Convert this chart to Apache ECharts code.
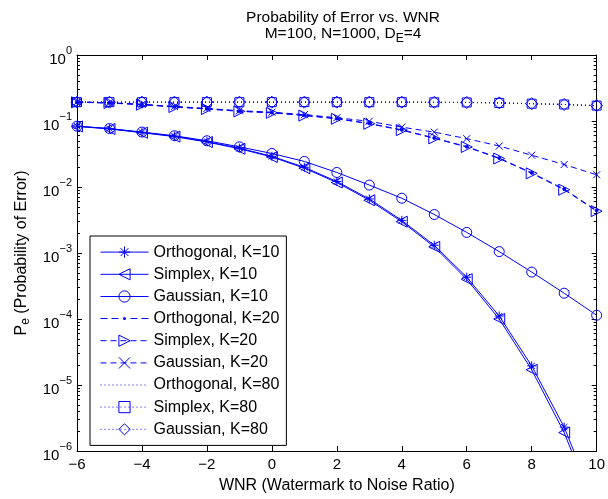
<!DOCTYPE html>
<html>
<head>
<meta charset="utf-8">
<script src="https://cdn.jsdelivr.net/npm/echarts@6/dist/echarts.min.js"></script>
<style>html,body{margin:0;padding:0;background:#fff}#c{width:608px;height:499px}</style>
</head>
<body>
<div id="c"></div>
<script>
const wnr = [-6,-5,-4,-3,-2,-1,0,1,2,3,4,5,6,7,8,9,10];
const orthK10  = [0.0835,0.0765,0.0672,0.0588,0.0488,0.0388,0.0292,0.0199,0.0121,0.0066,0.00312,0.00131,0.00043,0.000111,1.95e-5,2.3e-6,1.4e-7];
const simpK10  = [0.0828,0.0758,0.0665,0.0580,0.0480,0.0380,0.0285,0.0193,0.0117,0.0063,0.00298,0.00124,0.000400,0.000100,1.7e-5,1.9e-6,1.1e-7];
const gaussK10 = [0.0835,0.0768,0.0680,0.0598,0.0502,0.0406,0.0322,0.0244,0.0166,0.0107,0.00676,0.00383,0.00205,0.00105,0.000514,0.000246,0.000114];
const orthK20  = [0.193,0.188,0.178,0.164,0.153,0.141,0.134,0.122,0.109,0.0918,0.0735,0.0553,0.0409,0.0274,0.0164,0.0093,0.0044];
const simpK20  = [0.192,0.187,0.177,0.163,0.152,0.140,0.133,0.121,0.108,0.0908,0.0727,0.0546,0.0404,0.0270,0.0161,0.0091,0.00431];
const gaussK20 = [0.195,0.189,0.179,0.166,0.155,0.143,0.136,0.125,0.112,0.099,0.0807,0.0678,0.054,0.0418,0.0303,0.0219,0.0153];
const orthK80  = [0.193,0.193,0.193,0.193,0.193,0.193,0.193,0.193,0.193,0.193,0.193,0.192,0.191,0.188,0.183,0.178,0.171];
const simpK80  = [0.193,0.193,0.193,0.193,0.193,0.193,0.193,0.193,0.193,0.193,0.193,0.192,0.191,0.188,0.183,0.178,0.171];
const gaussK80 = [0.193,0.193,0.193,0.193,0.193,0.193,0.193,0.193,0.193,0.193,0.193,0.192,0.191,0.188,0.183,0.178,0.171];
const seriesNames = ['Orthogonal, K=10','Simplex, K=10','Gaussian, K=10','Orthogonal, K=20','Simplex, K=20','Gaussian, K=20','Orthogonal, K=80','Simplex, K=80','Gaussian, K=80'];
const xTicks = [-6,-4,-2,0,2,4,6,8,10];
const yMajor = [1e-6,1e-5,1e-4,1e-3,1e-2,1e-1,1];

const BLUE = '#0000ff';
const FONT = 'Liberation Sans, Arial, Helvetica, sans-serif';
const minorVals = [];
for (let e = -6; e < 0; e++) for (let m = 2; m <= 9; m++) minorVals.push(m * Math.pow(10, e));

const ASTER = 'path://M5,0L5,10M0,5L10,5M1.5,1.5L8.5,8.5M8.5,1.5L1.5,8.5';
const XMARK = 'path://M0,0L10,10M10,0L0,10';
// legend icon for dashed line with small dot (48 x 14 box, tiny corner squares fix the bounds)
const DOT_DASH_ICON = 'path://M0,0h0.01v0.01h-0.01z M47.99,13.99h0.01v0.01h-0.01z ' +
  'M0,6.5h7v1h-7z M11,6.5h7v1h-7z M30,6.5h7v1h-7z M41,6.5h7v1h-7z ' +
  'M22.5,7a1.5,1.5 0 1,0 3,0a1.5,1.5 0 1,0 -3,0z';

function mk(name, data, lineType, symbol, size, rotate, filled) {
  return {
    name, type: 'line', data: wnr.map((x, i) => [x, data[i]]),
    symbol, symbolSize: size, symbolRotate: rotate || 0, showSymbol: symbol !== 'none',
    lineStyle: { color: BLUE, width: 1, type: lineType },
    itemStyle: { color: filled ? BLUE : 'none', borderColor: BLUE, borderWidth: 1 },
    emphasis: { disabled: true }, animation: false, z: 3
  };
}
const dashed = [6, 4], dotted = [1, 3];
const series = [
  mk(seriesNames[0], orthK10, 'solid', ASTER, 9, 0, false),
  mk(seriesNames[1], simpK10, 'solid', 'triangle', 11, 90, false),
  mk(seriesNames[2], gaussK10, 'solid', 'circle', 10, 0, false),
  mk(seriesNames[3], orthK20, dashed, 'circle', 3, 0, true),
  mk(seriesNames[4], simpK20, dashed, 'triangle', 11, -90, false),
  mk(seriesNames[5], gaussK20, dashed, XMARK, 7, 0, false),
  mk(seriesNames[6], orthK80, dotted, 'none', 1, 0, false),
  mk(seriesNames[7], simpK80, dotted, 'rect', 9, 0, false),
  mk(seriesNames[8], gaussK80, dotted, 'diamond', 12, 0, false)
];

const legendData = seriesNames.map((n, i) => {
  if (i === 3) return { name: n, icon: DOT_DASH_ICON, itemStyle: { color: BLUE, borderWidth: 0 } };
  if (i === 6) return { name: n, itemStyle: { color: 'none', borderColor: 'none', borderWidth: 0 } };
  return { name: n };
});

const expLabel = v => {
  const e = Math.round(Math.log10(v));
  return '{b|10}{s|' + (e < 0 ? '\u2212' + (-e) : e) + '}';
};
const axisLine = { show: true, onZero: false, lineStyle: { color: '#000', width: 1 } };
const yBase = { type: 'log', logBase: 10, min: 1e-6, max: 1, gridIndex: 0, splitLine: { show: false } };

const chart = echarts.init(document.getElementById('c'), null, { renderer: 'canvas' });
chart.setOption({
  animation: false,
  backgroundColor: '#fff',
  textStyle: { fontFamily: FONT },
  title: {
    left: 338, top: 5, textAlign: 'center',
    text: 'Probability of Error vs. WNR\n{n|M=100, N=1000, D}{sub|E}{n|=4}',
    textStyle: {
      fontFamily: FONT, fontSize: 15.5, fontWeight: 'normal', color: '#000', lineHeight: 16,
      rich: { n: { fontFamily: FONT, fontSize: 15.5, color: '#000' }, sub: { fontFamily: FONT, fontSize: 12, color: '#000', padding: [9, 0, 0, 0] } }
    }
  },
  grid: { left: 77, right: 10, top: 55, bottom: 45, containLabel: false },
  legend: {
    orient: 'vertical', left: 90, top: 236,
    data: legendData,
    itemWidth: 48, itemHeight: 14, itemGap: 6,
    padding: [8, 7, 8, 10],
    backgroundColor: '#fff', borderColor: '#000', borderWidth: 1, borderRadius: 0,
    lineStyle: { width: 1 },
    itemStyle: { borderWidth: 1 },
    textStyle: { fontFamily: FONT, fontSize: 16, color: '#000' },
    selectedMode: false
  },
  xAxis: [
    { type: 'value', min: -6, max: 10, interval: 2, position: 'bottom', axisLine,
      axisTick: { inside: true, length: 5, lineStyle: { color: '#000' } },
      axisLabel: { fontFamily: FONT, fontSize: 15, color: '#000', margin: 6, formatter: v => (v < 0 ? '\u2212' + (-v) : '' + v) },
      splitLine: { show: false },
      name: 'WNR (Watermark to Noise Ratio)', nameLocation: 'middle', nameGap: 27,
      nameTextStyle: { fontFamily: FONT, fontSize: 16, color: '#000' } },
    { type: 'value', min: -6, max: 10, interval: 2, position: 'top', axisLine,
      axisTick: { inside: true, length: 5, lineStyle: { color: '#000' } },
      axisLabel: { show: false }, splitLine: { show: false } }
  ],
  yAxis: [
    Object.assign({}, yBase, { position: 'left', axisLine,
      axisTick: { inside: true, length: 5, lineStyle: { color: '#000' } },
      axisLabel: { formatter: expLabel, margin: 5, color: '#000',
        rich: { b: { fontFamily: FONT, fontSize: 15, color: '#000', padding: [9, 0, 0, 0] },
                s: { fontFamily: FONT, fontSize: 11, color: '#000', padding: [0, 0, 9, 0] } } },
      name: '{n|P}{sub|e}{n| (Probability of Error)}', nameLocation: 'middle', nameGap: 43, nameRotate: 90,
      nameTextStyle: { fontFamily: FONT, fontSize: 16, color: '#000',
        rich: { n: { fontFamily: FONT, fontSize: 16, color: '#000' }, sub: { fontFamily: FONT, fontSize: 12, color: '#000', padding: [9, 0, 0, 0] } } } }),
    Object.assign({}, yBase, { position: 'right', axisLine,
      axisTick: { inside: true, length: 5, lineStyle: { color: '#000' } },
      axisLabel: { show: false } }),
    Object.assign({}, yBase, { position: 'left', axisLine: { show: false, onZero: false },
      axisTick: { inside: true, length: 3, customValues: minorVals, lineStyle: { color: '#000' } },
      axisLabel: { show: false } }),
    Object.assign({}, yBase, { position: 'right', axisLine: { show: false, onZero: false },
      axisTick: { inside: true, length: 3, customValues: minorVals, lineStyle: { color: '#000' } },
      axisLabel: { show: false } })
  ],
  series
});
</script>
</body>
</html>
